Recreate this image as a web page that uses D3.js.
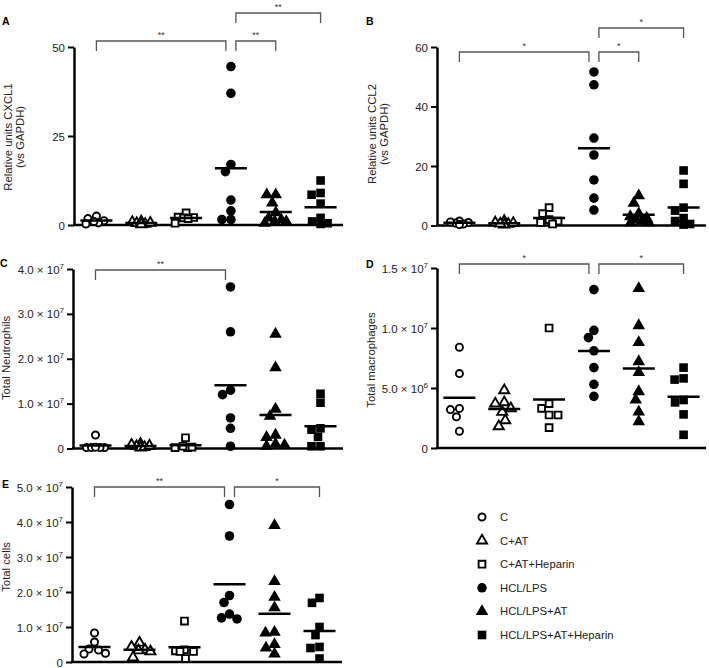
<!DOCTYPE html>
<html><head><meta charset="utf-8">
<script src="https://cdn.jsdelivr.net/npm/d3@7"></script>
<style>body{margin:0;background:#fff} svg{display:block;font-family:"Liberation Sans",Arial,sans-serif}</style>
</head><body><svg id="c" width="709" height="668"></svg>
<script>
// ---------- DATA ----------
const groups = ["C","C+AT","C+AT+Heparin","HCL/LPS","HCL/LPS+AT","HCL/LPS+AT+Heparin"];
const shapes = ["circle","triangle","square","circle","triangle","square"];
const filled = [false,false,false,true,true,true];

const cxcl1 = [
  [2.5,1.8,1.2,0.6,0.3,1.0],
  [0.8,0.5,0.3,1.0,0.2,0.6],
  [3.4,2.2,2.0,2.1,1.8,0.5],
  [44.5,37,17,15,7,4,1.5,1.5],
  [8.5,8.5,6.2,3.5,2,1,1,0.5,1.5],
  [12.5,9,8.5,6,2,1,0.3,0.5]
];
const ccl2 = [
  [1.5,1.0,0.5,0.8,0.3,1.2],
  [1.5,0.5,0.8,0.3,1.0,0.6],
  [6,4,2,1.5,1,0.5],
  [51.6,47.3,29.4,23.7,15.3,9.2,5.2],
  [10,7.5,4,3,2.5,2,1.5,1,1],
  [18.5,14,6,5,2.5,1.5,0.5,0.3]
];
const neutrophils = [ // x 1e7
  [0.3,0.02,0.02,0.02,0.02,0.03],
  [0.1,0.05,0.02,0.03,0.06,0.08],
  [0.24,0.02,0.02,0.03,0.05],
  [3.6,2.6,1.3,1.2,0.68,0.45,0.05],
  [2.55,1.8,0.88,0.72,0.3,0.25,0.08,0.05,0.1],
  [1.22,1.02,0.45,0.42,0.26,0.05,0.05]
].map(g=>g.map(v=>v*1e7));
const macrophages = [ // x 1e6
  [8.4,6.2,3.3,3.2,2.6,1.4],
  [4.8,3.8,3.7,3.3,3.0,2.3,1.8],
  [10,3.7,3.3,2.75,2.75,1.7],
  [13.2,9.8,9.2,8.1,6.7,5.3,4.3],
  [13.3,10.2,8.8,7.2,6.3,4.7,4.0,3.0,2.2],
  [6.7,5.8,5.7,4.0,3.8,2.8,1.1]
].map(g=>g.map(v=>v*1e6));
const totalCells = [ // x 1e7
  [0.83,0.57,0.37,0.34,0.25,0.23],
  [0.55,0.43,0.35,0.33,0.3,0.13],
  [1.17,0.35,0.32,0.3,0.3,0.1],
  [4.5,3.6,1.9,1.7,1.37,1.23,1.26],
  [3.9,2.3,1.85,1.55,0.85,0.83,0.5,0.4,0.23],
  [1.83,1.69,1.0,0.77,0.43,0.4,0.1]
].map(g=>g.map(v=>v*1e7));

const ticksA = [0,25,50];
const ticksB = [0,20,40,60];
const ticksC = [0,1e7,2e7,3e7,4e7];
const ticksD = [0,5e6,1e7,1.5e7];
const ticksE = [0,1e7,2e7,3e7,4e7,5e7];

// brackets: [fromGroup, toGroup, level, label]
const bracketsA = [[0,3,0,"**"],[3,4,0,"**"],[3,5,1,"**"]];
const bracketsB = [[0,3,0,"*"],[3,4,0,"*"],[3,5,1,"*"]];
const bracketsC = [[0,3,0,"**"]];
const bracketsD = [[0,3,0,"*"],[3,5,0,"*"]];
const bracketsE = [[0,3,0,"**"],[3,5,0,"*"]];

// ---------- LAYOUT ----------
const panels = [
  {letter:"A", data:cxcl1, ticks:ticksA, br:bracketsA, sci:false, x0:74, x1:343, y0:225, y1:47,
   title:["Relative units CXCL1","(vs GAPDH)"], titleX:[12,24], titleY:137, lx:2, ly:25, brY:[41,13]},
  {letter:"B", data:ccl2, ticks:ticksB, br:bracketsB, sci:false, x0:437, x1:706, y0:225.5, y1:47,
   title:["Relative units CCL2","(vs GAPDH)"], titleX:[376,388], titleY:134, lx:366, ly:25, brY:[52,28]},
  {letter:"C", data:neutrophils, ticks:ticksC, br:bracketsC, sci:true, x0:73, x1:343, y0:448.5, y1:269,
   title:["Total Neutrophils"], titleX:[10], titleY:358, lx:0, ly:267, brY:[270]},
  {letter:"D", data:macrophages, ticks:ticksD, br:bracketsD, sci:true, x0:437, x1:706, y0:448, y1:268,
   title:["Total macrophages"], titleX:[375], titleY:360, lx:366, ly:268, brY:[264]},
  {letter:"E", data:totalCells, ticks:ticksE, br:bracketsE, sci:true, x0:72, x1:342, y0:662, y1:487,
   title:["Total cells"], titleX:[10], titleY:567, lx:2, ly:488, brY:[487]}
];

const svg = d3.select("#c");

function symPath(shape){
  const t = shape==="circle"?d3.symbolCircle:shape==="triangle"?d3.symbolTriangle:d3.symbolSquare;
  const size = shape==="circle"?72:shape==="triangle"?68:74;
  return d3.symbol().type(t).size(size)();
}
function symPathOpen(shape){
  const t = shape==="circle"?d3.symbolCircle:shape==="triangle"?d3.symbolTriangle:d3.symbolSquare;
  const size = shape==="circle"?40:shape==="triangle"?44:46;
  return d3.symbol().type(t).size(size)();
}

function swarm(vals, cx, y, d, maxOff){
  const order = vals.map((v,i)=>i).sort((a,b)=>vals[b]-vals[a]);
  const pos = [];
  const out = new Array(vals.length);
  for(const i of order){
    const py = y(vals[i]);
    let px = cx, bestD = -1, bestX = cx, found=false;
    for(let k=0;k<=maxOff*4;k++){
      const off = (k%2===0?1:-1)*Math.ceil(k/2)*0.5;
      const tx = cx+off;
      const md = pos.length? d3.min(pos,p=>Math.hypot(p[0]-tx,p[1]-py)) : Infinity;
      if(md>=d){px=tx;found=true;break;}
      if(md>bestD+0.5){bestD=md;bestX=tx;}
    }
    if(!found) px=bestX;
    pos.push([px,py]); out[i]=[px,py];
  }
  return out;
}

function sciLabel(sel, v){
  if(v===0){ sel.text("0"); return; }
  const e = Math.floor(Math.log10(v)+1e-9);
  const m = (v/Math.pow(10,e)).toFixed(1);
  sel.append("tspan").text(m+" \u00d7 10");
  sel.append("tspan").attr("dy",-5).attr("font-size","8px").text(e);
}

panels.forEach(p=>{
  const g = svg.append("g");
  const dom = p.ticks[p.ticks.length-1];
  const y = d3.scaleLinear().domain([0,dom]).range([p.y0,p.y1]);
  const x = d3.scalePoint().domain(groups).range([p.x0,p.x1]).padding(0.5);

  // axes
  const yAxis = d3.axisLeft(y).tickValues(p.ticks).tickSize(6).tickSizeOuter(0).tickFormat("");
  const ya = g.append("g").attr("transform",`translate(${p.x0},0)`).call(yAxis);
  ya.select(".domain").attr("stroke","#000").attr("stroke-width",2.5);
  ya.selectAll(".tick line").attr("stroke","#000").attr("stroke-width",2);
  ya.selectAll(".tick").each(function(v){
    const t = d3.select(this).append("text").attr("x",-9).attr("dy","0.35em")
      .attr("text-anchor","end").attr("fill","#222").attr("font-size","11.5px");
    if(p.sci) sciLabel(t,v); else t.text(v);
  });
  g.append("line").attr("x1",p.x0-1).attr("x2",p.x1).attr("y1",p.y0).attr("y2",p.y0)
    .attr("stroke","#000").attr("stroke-width",2.5);

  // titles
  p.title.forEach((t,i)=>{
    g.append("text").attr("transform",`translate(${p.titleX[i]},${p.titleY}) rotate(-90)`)
      .attr("text-anchor","middle").attr("font-size","11.3px").attr("fill","#222").text(t);
  });
  g.append("text").attr("x",p.lx).attr("y",p.ly).attr("font-weight","bold").attr("font-size","10.5px").text(p.letter);

  // points
  p.data.forEach((vals,gi)=>{
    const cx = x(groups[gi]);
    const pts = swarm(vals,cx,y,8.8,11);
    pts.forEach(pt=>{
      const s = g.append("path").attr("transform",`translate(${pt[0]},${pt[1]})`);
      if(filled[gi]) s.attr("d",symPath(shapes[gi])).attr("fill","#000");
      else s.attr("d",symPathOpen(shapes[gi])).attr("fill","#fff").attr("stroke","#000").attr("stroke-width",1.9);
    });
    const m = d3.mean(vals);
    g.append("line").attr("x1",cx-16).attr("x2",cx+16).attr("y1",y(m)).attr("y2",y(m))
      .attr("stroke","#000").attr("stroke-width",2.5);
  });

  // brackets
  p.br.forEach(b=>{
    const xa = x(groups[b[0]]) + (b[0]===3?5:0);
    const xb = x(groups[b[1]]) - (b[1]===3?5:0);
    const by = p.brY[b[2]];
    g.append("path").attr("d",`M${xa},${by+10}V${by}H${xb}V${by+10}`)
      .attr("fill","none").attr("stroke","#555").attr("stroke-width",1.3);
    g.append("text").attr("x",(xa+xb)/2).attr("y",by-3).attr("text-anchor","middle")
      .attr("font-size","9px").attr("fill","#333").text(b[3]);
  });
});

// legend
const lg = svg.append("g");
groups.forEach((name,i)=>{
  const ly = 517 + i*23.6;
  const s = lg.append("path").attr("transform",`translate(482,${ly})`);
  if(filled[i]) s.attr("d",symPath(shapes[i])).attr("fill","#000");
  else s.attr("d",symPathOpen(shapes[i])).attr("fill","#fff").attr("stroke","#000").attr("stroke-width",1.9);
  lg.append("text").attr("x",500).attr("y",ly+4).attr("font-size","11.3px").attr("fill","#222").text(name);
});
</script></body></html>
